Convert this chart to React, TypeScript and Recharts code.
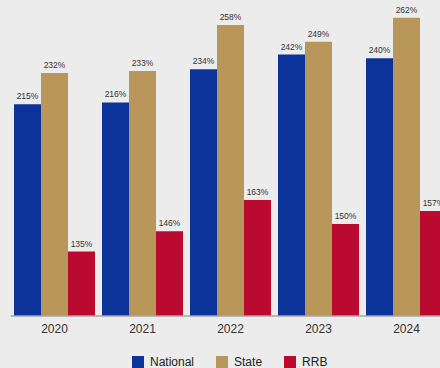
import React from "react";
import { BarChart, Bar, XAxis, YAxis, LabelList } from "recharts";

const years = ["2020", "2021", "2022", "2023", "2024"];
const national = [215, 216, 234, 242, 240];
const state = [232, 233, 258, 249, 262];
const rrb = [135, 146, 163, 150, 157];

const series = [
  { key: "National", values: national, color: "#0b339a" },
  { key: "State", values: state, color: "#b9975b" },
  { key: "RRB", values: rrb, color: "#bb0a30" },
];

const data = years.map((y, i) => ({
  year: y,
  National: national[i],
  State: state[i],
  RRB: rrb[i],
}));

const fmt = (v: any) => `${v}%`;

export default function App() {
  return (
    <div
      style={{
        position: "absolute",
        left: 0,
        top: 0,
        width: 440,
        height: 368,
        overflow: "hidden",
        background: "#ececec",
        fontFamily: "Arial, 'Liberation Sans', sans-serif",
      }}
    >
      <BarChart
        width={460}
        height={368}
        data={data}
        margin={{ top: 3, right: 9.5, left: 10.5, bottom: 22 }}
        barCategoryGap={3.5}
        barGap={0}
      >
        <YAxis hide domain={[100, 270]} allowDataOverflow />
        <XAxis
          dataKey="year"
          height={30}
          tickLine={false}
          axisLine={{ stroke: "#a6a6a6", strokeWidth: 1.5 }}
          tick={{ fontSize: 12, fill: "#333333", fontFamily: "Arial, 'Liberation Sans', sans-serif" }}
        />
        {series.map((s) => (
          <Bar key={s.key} dataKey={s.key} fill={s.color} isAnimationActive={false}>
            <LabelList
              dataKey={s.key}
              position="top"
              offset={5}
              formatter={fmt}
              style={{ fontSize: 8.5, fill: "#333333", fontFamily: "Arial, 'Liberation Sans', sans-serif" }}
            />
          </Bar>
        ))}
      </BarChart>
      <div
        style={{
          position: "absolute",
          left: 132,
          top: 355,
          display: "flex",
          alignItems: "center",
          fontSize: 12,
          color: "#222222",
        }}
      >
        {series.map((s) => (
          <div key={s.key} style={{ display: "flex", alignItems: "center", marginRight: 22 }}>
            <span style={{ display: "inline-block", width: 12, height: 12, background: s.color, marginRight: 6 }} />
            <span>{s.key}</span>
          </div>
        ))}
      </div>
    </div>
  );
}
